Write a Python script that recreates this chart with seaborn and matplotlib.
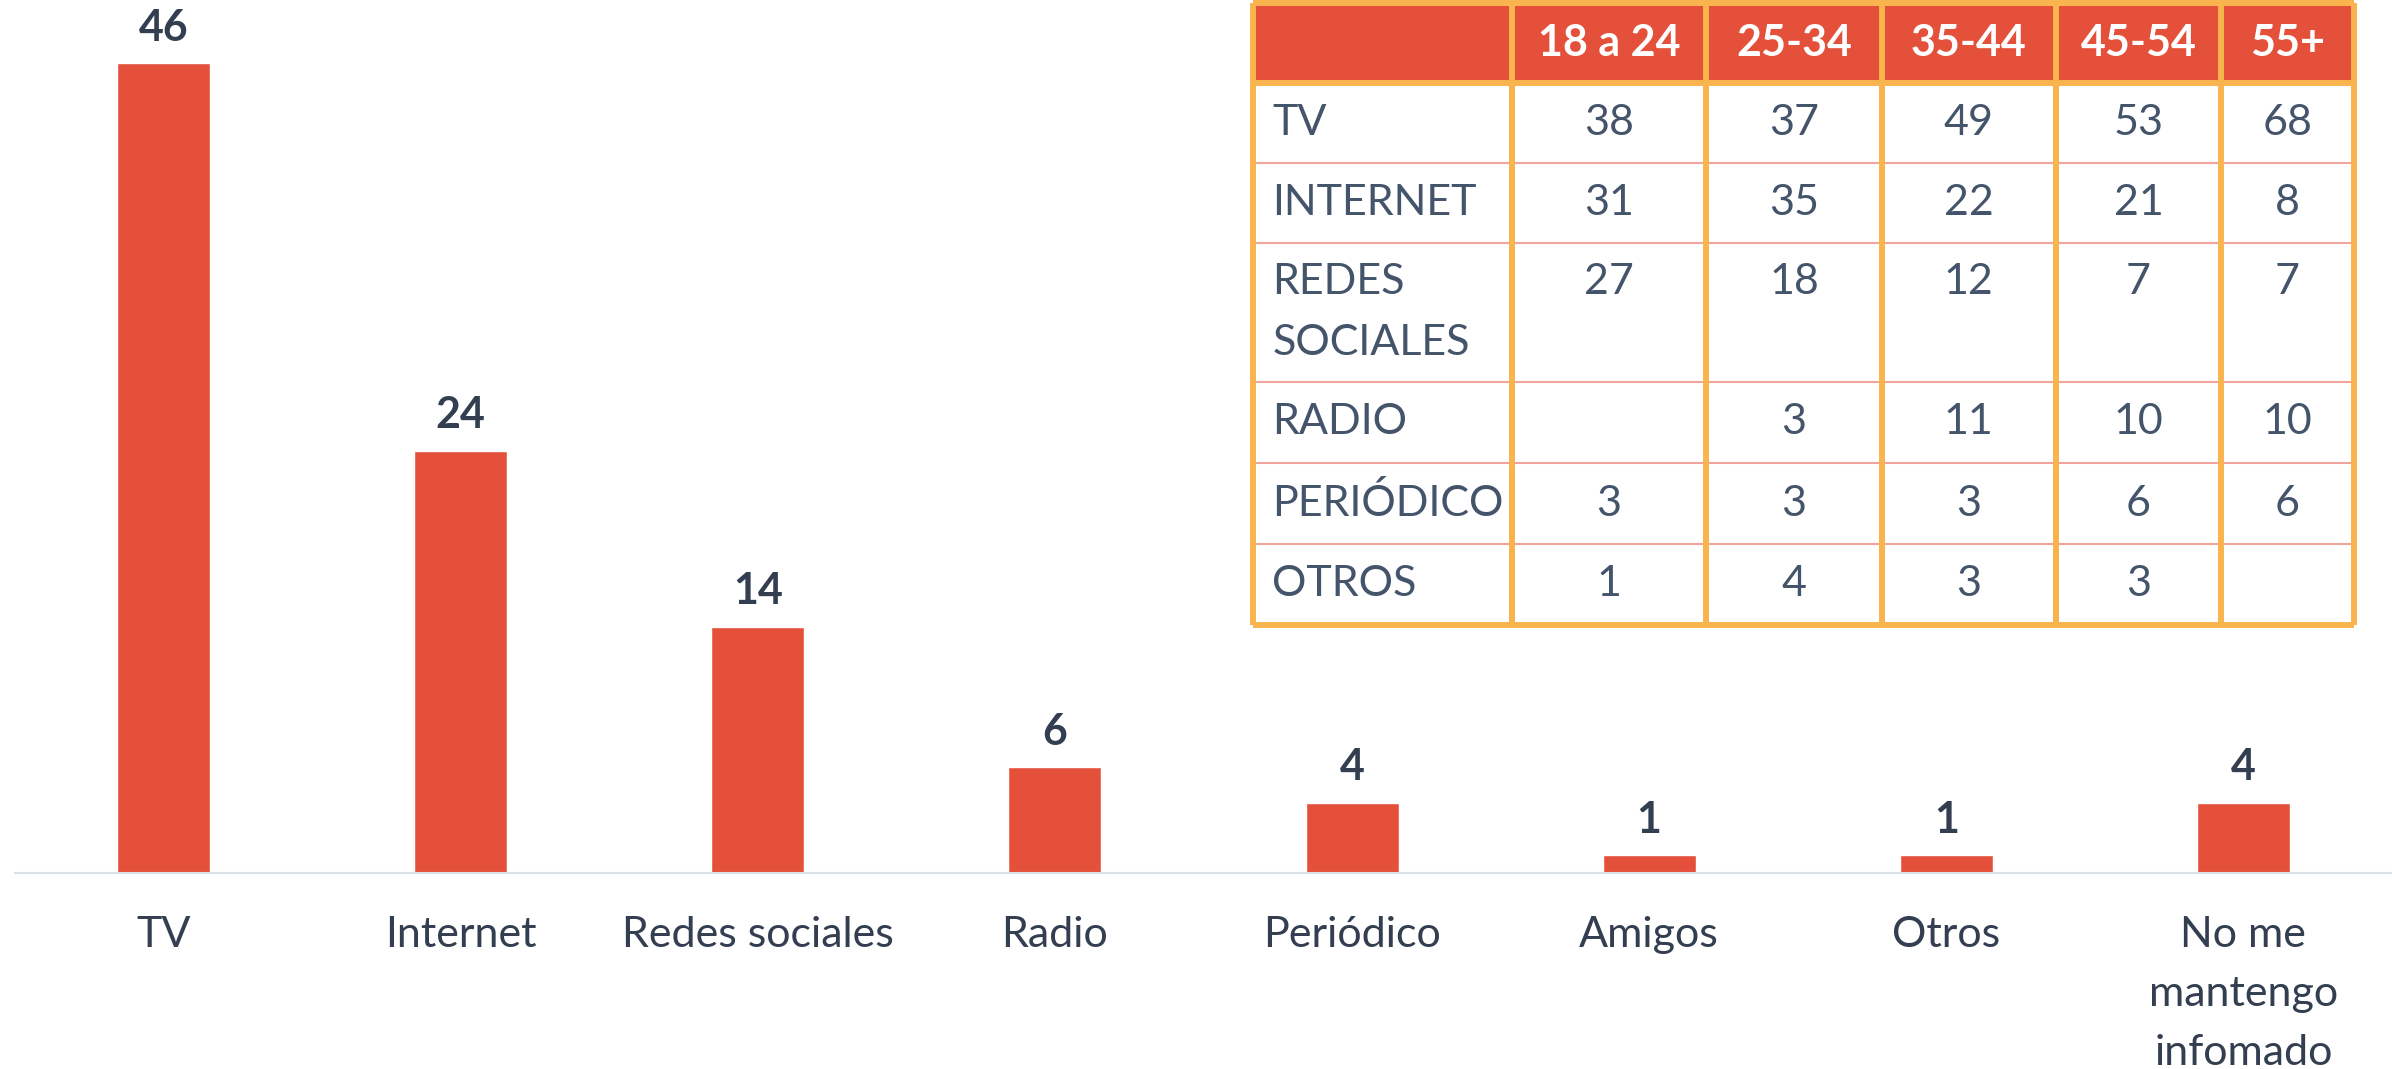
import matplotlib
matplotlib.use("Agg")
import matplotlib.pyplot as plt
import seaborn as sns

# datos del grafico de barras
categorias = ['TV', 'Internet', 'Redes sociales', 'Radio', 'Periódico',
              'Amigos', 'Otros', 'No me\nmantengo\ninfomado']
valores = [46, 24, 14, 6, 4, 1, 1, 4]

# datos de la tabla por edad
edades = ['18 a 24', '25-34', '35-44', '45-54', '55+']
medios = ['TV', 'INTERNET', 'REDES\nSOCIALES', 'RADIO', 'PERIÓDICO', 'OTROS']
tv = [38, 37, 49, 53, 68]
internet = [31, 35, 22, 21, 8]
redes = [27, 18, 12, 7, 7]
radio = [None, 3, 11, 10, 10]
periodico = [3, 3, 3, 6, 6]
otros = [1, 4, 3, 3, None]

ROJO = '#e4503a'
NARANJA = '#f9b44e'
ROSA = '#f0a49b'
TEXTO = '#333f50'
TEXTO_TABLA = '#44546a'

sns.set_style("white")
plt.rcParams['font.family'] = ['Lato', 'DejaVu Sans']

fig = plt.figure(figsize=(23.92, 10.69), dpi=100)
ax = fig.add_axes([15 / 2392, 1 - 873 / 1069, 2377 / 2392, 873 / 1069])

sns.barplot(x=categorias, y=valores, color=ROJO, saturation=1, width=0.313, ax=ax)
ax.set_xlim(-0.5, 7.5)
ax.set_ylim(0, 49.6)
ax.bar_label(ax.containers[0], padding=11, fontsize=31, fontweight='bold', color=TEXTO)

for lado in ['top', 'left', 'right']:
    ax.spines[lado].set_visible(False)
ax.spines['bottom'].set_color('#dde2e8')
ax.spines['bottom'].set_linewidth(1.5)
ax.set_yticks([])
ax.set_xlabel('')
ax.set_ylabel('')
ax.tick_params(axis='x', length=0, pad=31, labelsize=31, labelcolor=TEXTO)
for lbl in ax.get_xticklabels():
    lbl.set_linespacing(1.68)

# tabla
ancho_cols = [259, 195, 176, 174, 166, 133]
alto_filas = [80, 80, 80, 139, 81, 81, 81]

def fmt(v):
    return '' if v is None else str(v)

filas = [tv, internet, redes, radio, periodico, otros]
celdas = []
for nombre, fila in zip(medios, filas):
    textos = [fmt(v) for v in fila]
    if '\n' in nombre:
        textos = [t + '\n ' for t in textos]
    celdas.append([nombre] + textos)

tax = fig.add_axes([1253 / 2392, 1 - 625 / 1069, 1101 / 2392, 622 / 1069])
tax.set_axis_off()
total_w = sum(ancho_cols)
total_h = sum(alto_filas)
tbl = tax.table(cellText=celdas, colLabels=[''] + edades,
                colWidths=[w / total_w for w in ancho_cols],
                cellLoc='center', bbox=[0, 0, 1, 1])
tbl.auto_set_font_size(False)
tbl.set_fontsize(31)
for (r, c), cell in tbl.get_celld().items():
    cell.set_height(alto_filas[r] / total_h)
    cell.set_linewidth(0)
    txt = cell.get_text()
    txt.set_linespacing(1.75)
    if r == 0:
        cell.set_facecolor(ROJO)
        cell.set_edgecolor(ROJO)
        txt.set_color('white')
        txt.set_fontweight('bold')
    else:
        cell.set_facecolor('white')
        cell.set_edgecolor('white')
        txt.set_color(TEXTO_TABLA)
    if c == 0:
        txt.set_horizontalalignment('left')
        cell.PAD = 0.075

# lineas de la tabla
xs = [0]
for w in ancho_cols:
    xs.append(xs[-1] + w / total_w)
ys = [1]
for h in alto_filas:
    ys.append(ys[-1] - h / total_h)

tax.hlines(ys[2:-1], 0, 1, color=ROSA, linewidth=1.5, zorder=3)
tax.vlines(xs, 0, 1, color=NARANJA, linewidth=4.3, zorder=4, clip_on=False)
tax.hlines([ys[0], ys[1], ys[-1]], 0, 1, color=NARANJA, linewidth=4.3, zorder=4, clip_on=False)
tax.set_xlim(0, 1)
tax.set_ylim(0, 1)

fig.savefig('out.png', dpi=100)
